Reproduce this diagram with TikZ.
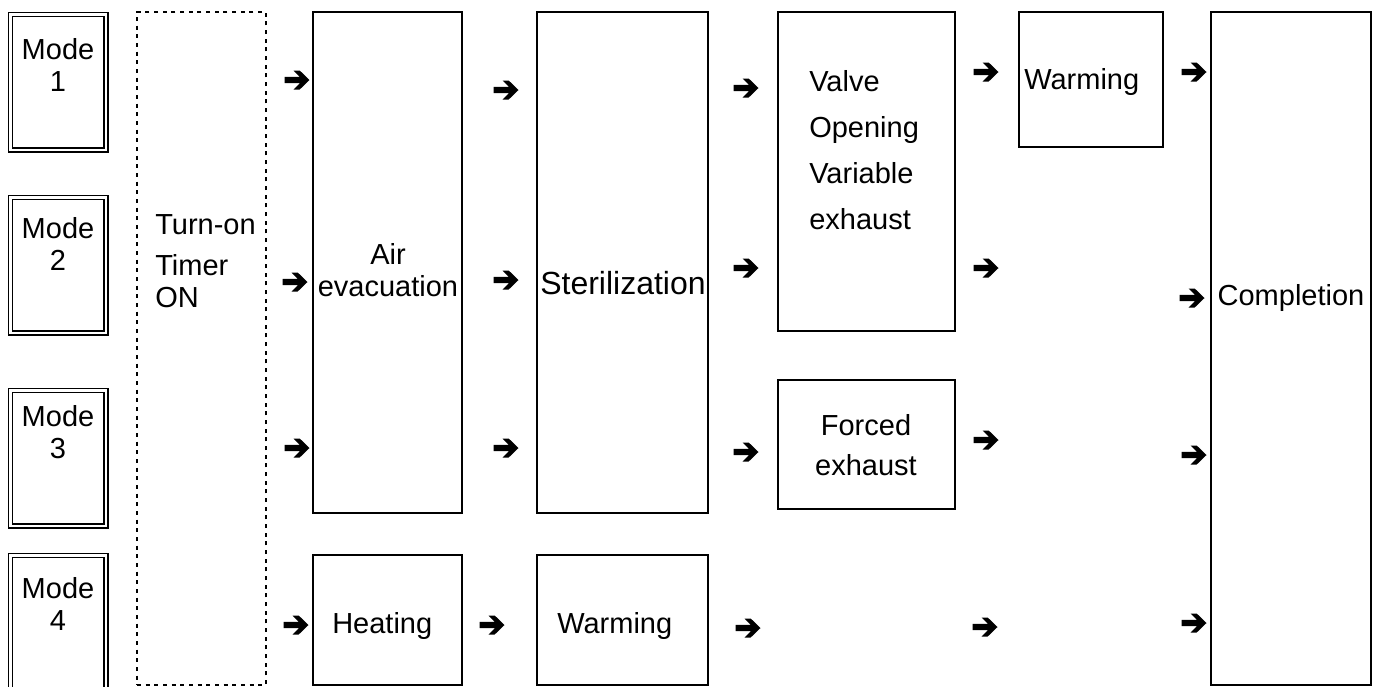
\documentclass[tikz,border=0pt]{standalone}
\usepackage{fontspec}
\setmainfont{Liberation Sans}
\usetikzlibrary{fit,positioning}
\tikzset{
  stage/.style={draw,line width=1.5pt,inner sep=0pt},
  mode/.style={draw,double,double distance=1.8pt,line width=1.1pt,inner sep=0pt},
  timer/.style={draw,dash pattern=on 3pt off 3.5pt,line width=1.6pt,inner sep=0pt},
  txt/.style={font=\fontsize{21.75}{#1}\selectfont,inner sep=0pt},
  txt/.default=24pt,
  arr/.style={minimum width=19.5pt,minimum height=15pt,inner sep=0pt,
    path picture={\fill[shift={(path picture bounding box.center)}]
      (-12.5,-3.2)--(2.8,-3.2)--(-3.5,-9.5)--(2.7,-9.5)--(12.5,0)--(2.7,9.5)--(-3.5,9.5)--(2.8,3.2)--(-12.5,3.2)--cycle;}}
}
\begin{document}
\begin{tikzpicture}[x=0.75pt,y=-0.75pt]
\useasboundingbox (0,0) rectangle (1382,686);
\clip (0,0) rectangle (1382,686);
% modes
\node[mode,fit={(10.5,14.5)(106,150)}](m1){};
\node[mode,fit={(10.5,197.5)(106,333)}](m2){};
\node[mode,fit={(10.5,390.5)(106,526)}](m3){};
\node[mode,fit={(10.5,555.5)(106,720)}](m4){};
\node[txt,align=center](m1t)at(58,65){Mode\\1};
\node[txt,align=center](m2t)at(58,244){Mode\\2};
\node[txt,align=center](m3t)at(58,432){Mode\\3};
\node[txt,align=center](m4t)at(58,604){Mode\\4};
% timer
\node[timer,fit={(137,12)(266,685)}](timer){};
\node[txt,align=left,anchor=west](timert)at(155,261){Turn-on\\[7pt]Timer\\ON};
% stages
\node[stage,fit={(313,12)(462,513)}](air){};
\node[txt,align=center](airt)at(388,270){Air\\evacuation};
\node[stage,fit={(537,12)(708,513)}](ster){};
\node[font=\fontsize{24}{26}\selectfont,inner sep=0pt](stert)at(623,283){Sterilization};
\node[stage,fit={(778,12)(955,331)}](valve){};
\node[txt=34.5pt,align=left,anchor=west](valvet)at(809,150){Valve\\Opening\\Variable\\exhaust};
\node[stage,fit={(1019,12)(1163,147)}](warm1){};
\node[txt,anchor=west](warm1t)at(1024,82){Warming};
\node[stage,fit={(778,380)(955,509)}](forced){};
\node[txt=30pt,align=center](forcedt)at(866,445){Forced\\exhaust};
\node[stage,fit={(313,555)(462,685)}](heat){};
\node[txt,anchor=west](heatt)at(332,626){Heating};
\node[stage,fit={(537,555)(708,685)}](warm2){};
\node[txt,anchor=west](warm2t)at(557,626){Warming};
\node[stage,fit={(1211,12)(1371,685)}](done){};
\node[txt](donet)at(1291,298){Completion};
% arrows
\foreach \n/\x/\y in {a11/297/80,a12/506/90,a13/746/88,a14/986/72,a15/1194/72,
  a21/295/282,a22/506/280,a23/746/268,a24/986/268,a25/1192/298,
  a31/297/448,a32/506/448,a33/746/452,a34/986/440,a35/1194/455,
  a41/296/625,a42/492/625,a43/748/628,a44/985/627,a45/1194/623}
  \node[arr](\n)at(\x,\y){};
\end{tikzpicture}
\end{document}
